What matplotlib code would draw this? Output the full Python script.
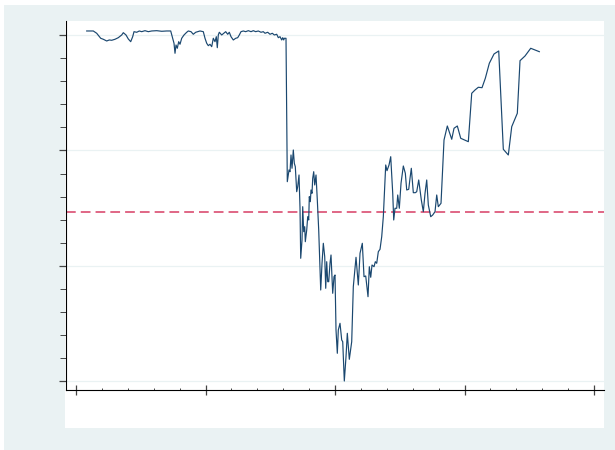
import matplotlib
matplotlib.use("Agg")
import matplotlib.pyplot as plt
from matplotlib.patches import Rectangle
from matplotlib.ticker import MultipleLocator, NullFormatter

# ---- data (units arbitrary, axis labels hidden) ----
t = [8.26, 13.36, 15.98, 19.07, 21.08, 23.71, 25.71, 27.57, 30.12, 32.66,
     35.29, 36.53, 38.61, 40.39, 42.24, 43.78, 44.79, 46.87, 48.88, 50.73,
     53.28, 55.83, 58.46, 62.32, 66.18, 70.04, 73.13, 74.67, 75.68, 76.45,
     77.22, 78.22, 79.30, 80.31, 81.62, 83.40, 85.48, 86.72, 88.80, 90.58,
     92.43, 93.98, 95.75, 98.30, 99.61, 100.93, 102.16, 103.47, 104.79, 106.02,
     107.34, 108.34, 109.11, 109.88, 110.66, 112.51, 114.05, 115.60, 117.14, 118.38,
     119.69, 121.47, 123.32, 124.86, 126.10, 127.41, 129.19, 131.04, 133.05, 135.14,
     136.91, 138.76, 140.77, 142.86, 144.63, 145.95, 148.03, 149.81, 151.58, 153.13,
     154.98, 156.22, 157.53, 158.84, 159.61, 160.39, 160.85, 162.16, 163.16, 164.48,
     165.25, 166.02, 166.80, 167.80, 168.57, 169.34, 170.42, 171.19, 172.20, 172.97,
     173.51, 174.52, 175.06, 175.83, 176.60, 177.07, 178.15, 178.92, 179.69, 180.15,
     180.93, 181.47, 182.24, 182.78, 183.55, 184.32, 185.33, 186.33, 187.41, 188.96,
     189.96, 190.97, 192.05, 192.82, 193.59, 194.36, 195.14, 196.14, 196.91, 198.22,
     199.23, 200.00, 200.77, 201.78, 202.55, 203.86, 205.17, 205.95, 207.18, 208.49,
     209.50, 211.04, 212.89, 214.13, 216.22, 217.99, 219.31, 221.08, 222.39, 223.71,
     225.48, 226.49, 227.57, 228.57, 230.12, 231.12, 232.20, 233.44, 234.75, 236.06,
     237.30, 239.15, 240.15, 241.70, 243.01, 244.56, 245.33, 246.33, 247.64, 248.42,
     249.65, 250.97, 252.75, 254.29, 255.37, 256.92, 257.92, 258.92, 260.46, 262.01,
     263.09, 264.63, 265.64, 266.64, 268.19, 269.50, 270.81, 272.05, 273.90, 275.44,
     277.22, 278.53, 279.77, 281.85, 284.17, 286.72, 290.12, 291.89, 294.44, 297.07,
     302.94, 305.56, 308.11, 310.66, 313.51, 316.06, 319.15, 322.78, 326.41, 329.96,
     333.82, 336.45, 340.77, 342.86, 346.72, 351.12, 357.76]

value = [303.46, 303.46, 301.47, 297.14, 296.28, 294.80, 295.67, 295.41, 296.28, 297.66,
         300.00, 301.99, 300.00, 296.54, 294.20, 298.53, 302.86, 302.34, 303.46, 302.86,
         303.72, 302.86, 303.46, 303.72, 303.20, 303.46, 303.46, 297.14, 292.81, 284.15,
         291.34, 288.48, 294.20, 291.95, 297.14, 300.00, 302.34, 303.46, 302.86, 300.61,
         302.34, 302.86, 303.46, 302.86, 297.14, 292.81, 290.74, 291.95, 289.87, 297.14,
         294.20, 298.53, 289.00, 300.00, 302.34, 300.00, 301.47, 302.86, 300.61, 302.34,
         298.53, 295.67, 297.14, 297.66, 300.00, 302.86, 303.46, 302.86, 303.72, 302.86,
         303.72, 302.86, 303.46, 302.34, 302.86, 301.47, 302.34, 300.61, 301.47, 300.00,
         300.61, 297.66, 298.53, 295.67, 297.66, 295.67, 297.14, 297.14, 172.99, 183.12,
         181.64, 196.10, 184.59, 200.43, 188.92, 185.97, 164.33, 168.66, 178.79, 149.96,
         106.67, 122.51, 151.34, 129.70, 134.03, 121.04, 131.17, 142.68, 139.83, 160.00,
         155.67, 165.80, 162.94, 175.93, 181.64, 170.13, 178.79, 157.14, 131.17, 79.22,
         102.34, 119.65, 108.05, 80.69, 103.72, 86.41, 86.41, 102.34, 109.52, 76.36,
         90.74, 92.21, 44.59, 24.42, 44.59, 50.39, 35.93, 34.46, 0.43, 21.47,
         41.73, 19.22, 34.46, 82.08, 107.53, 83.55, 111.00, 119.65, 90.74, 91.34,
         73.42, 99.39, 90.22, 100.87, 99.39, 103.72, 102.34, 112.38, 114.46, 125.37,
         142.68, 187.45, 182.51, 187.45, 194.63, 162.94, 139.83, 149.96, 149.96, 161.47,
         149.96, 171.60, 186.58, 180.26, 165.80, 166.41, 175.93, 184.59, 163.46, 163.46,
         164.33, 174.46, 165.80, 157.14, 147.01, 162.94, 174.46, 152.81, 142.68, 144.16,
         147.01, 161.47, 151.34, 154.29, 209.09, 221.21, 209.70, 219.22, 221.21, 210.56,
         207.62, 249.52, 252.38, 254.72, 254.37, 262.51, 275.50, 283.55, 286.15, 201.04,
         196.10, 220.61, 232.21, 277.75, 281.82, 288.48, 285.54]

reference_level = 146.75

x_major = [0, 100, 200, 300, 400]
y_major = [0, 100, 200, 300]

# ---- styling ----
BG = "#eaf2f3"
NAVY = "#1a476f"
PINK = "#e06685"

fig = plt.figure(figsize=(6.15, 4.5), dpi=100, facecolor="white")
W, H = 615.0, 450.0
# outer graph region
fig.patches.append(Rectangle((4 / W, 0), 1 - 4 / W, 1 - 5 / H, transform=fig.transFigure,
                             facecolor=BG, edgecolor="none", zorder=-2))
# inner plot region (white)
fig.patches.append(Rectangle((65 / W, (H - 428) / H), (604 - 65) / W, (428 - 21) / H,
                             transform=fig.transFigure, facecolor="white",
                             edgecolor="none", zorder=-1))

ax = fig.add_axes([66 / W, (H - 390) / H, (604 - 66) / W, (390 - 21) / H])
ax.set_facecolor("none")

ax.plot(t, value, color=NAVY, lw=0.85, zorder=3)
ax.axhline(reference_level, color=PINK, lw=1.4, dashes=(5, 2.6), zorder=2)

ax.set_xlim(-7.72, 407.7)
ax.set_ylim(-7.36, 312.1)

ax.set_xticks(x_major)
ax.set_yticks(y_major)
ax.xaxis.set_minor_locator(MultipleLocator(20))
ax.yaxis.set_minor_locator(MultipleLocator(20))
ax.xaxis.set_major_formatter(NullFormatter())
ax.yaxis.set_major_formatter(NullFormatter())

ax.grid(axis="y", which="major", color=BG, lw=0.9, zorder=0)
ax.set_axisbelow(True)

for s in ("top", "right"):
    ax.spines[s].set_visible(False)
for s in ("left", "bottom"):
    ax.spines[s].set_color("black")
    ax.spines[s].set_linewidth(0.8)

ax.tick_params(axis="x", which="major", direction="inout", length=6.5, width=0.9, color="#444444")
ax.tick_params(axis="x", which="minor", direction="in", length=1.8, width=0.7, color="#444444")
ax.tick_params(axis="y", which="major", direction="out", length=4.8, width=0.9, color="#444444")
ax.tick_params(axis="y", which="minor", direction="out", length=4.0, width=0.7, color="#444444")

fig.savefig("out.png", dpi=100, facecolor=fig.get_facecolor())
